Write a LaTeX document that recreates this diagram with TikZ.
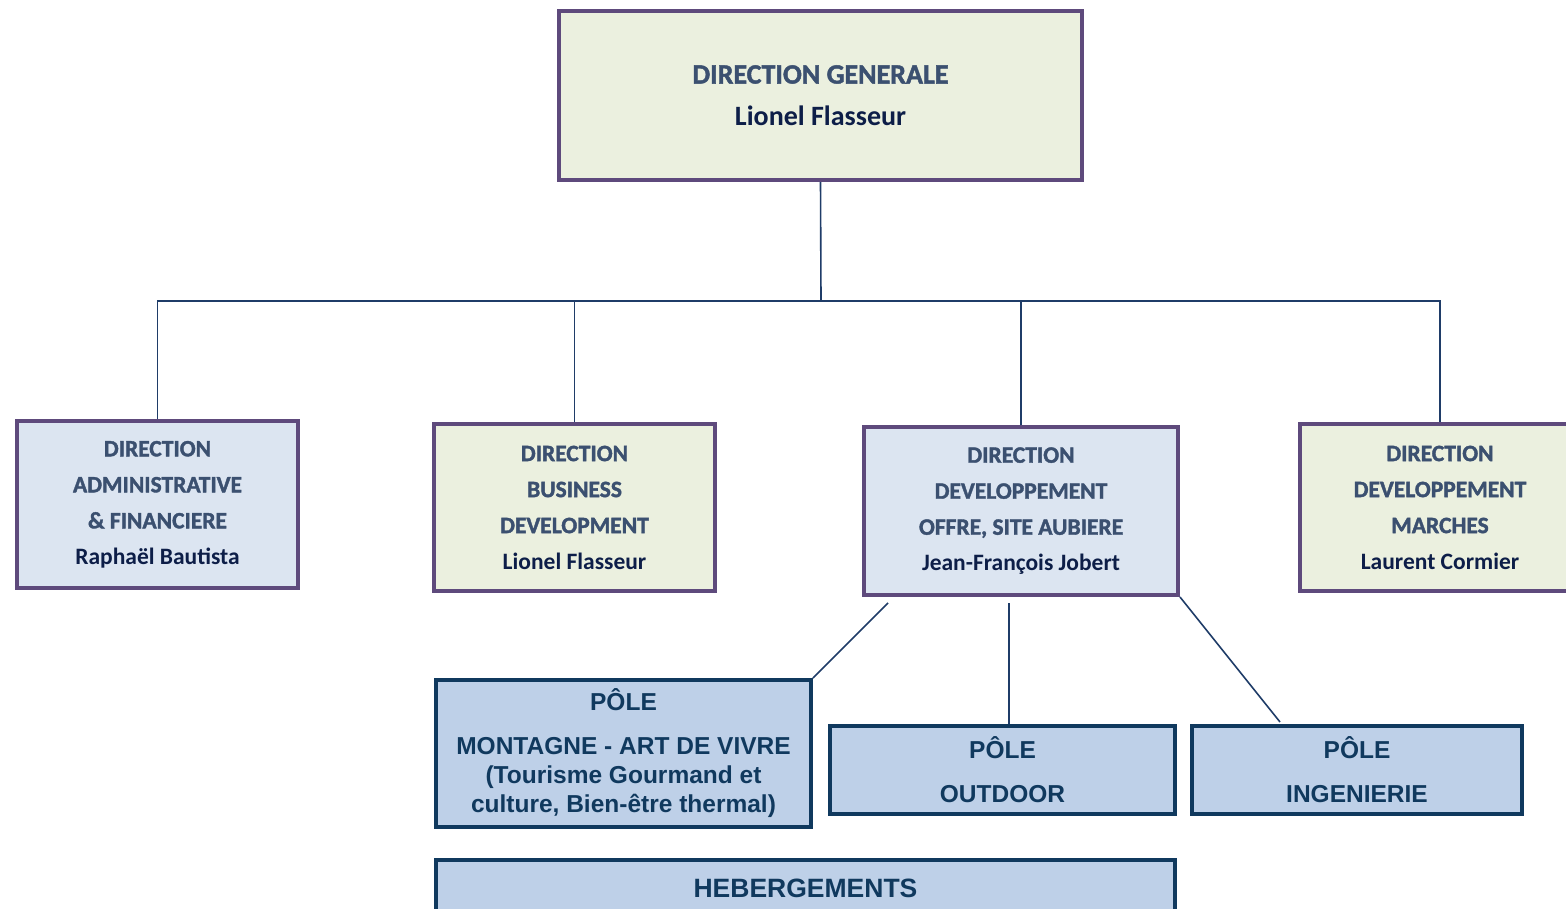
\documentclass[tikz,border=0pt]{standalone}
\usepackage{fontspec}
\setmainfont{Carlito}
\newfontfamily\headfont[FakeBold=1.6]{Carlito}
\newfontfamily\polefont{Liberation Sans}
\usetikzlibrary{calc}
\definecolor{dirborder}{RGB}{94,74,124}
\definecolor{dirgreen}{RGB}{235,240,223}
\definecolor{dirblue}{RGB}{220,229,241}
\definecolor{polefill}{RGB}{190,208,232}
\definecolor{poleborder}{RGB}{16,57,94}
\definecolor{linkcol}{RGB}{31,60,104}
\definecolor{headcol}{RGB}{59,80,112}
\definecolor{namecol}{RGB}{13,30,72}
\tikzset{dirbox/.style={draw=dirborder, line width=4pt, rectangle, align=center, inner sep=0pt,
		font=\bfseries\fontsize{23.5}{36}\selectfont}}
\tikzset{polebox/.style={draw=poleborder, line width=4pt, fill=polefill, rectangle, align=center, inner sep=0pt,
		font=\polefont\bfseries\fontsize{24.5}{29}\selectfont, text=poleborder}}
\tikzset{link/.style={draw=linkcol, line width=1.6pt}}
\newcommand{\hd}[1]{\textcolor{headcol}{\headfont\bfseries #1}}
\newcommand{\nm}[1]{\textcolor{namecol}{#1}}

\begin{document}
\begin{tikzpicture}[x=1pt, y=-1pt]
		\useasboundingbox (0,0) rectangle (1566,908);
		\clip (0,0) rectangle (1566,908);
		
		\node[dirbox, fill=dirgreen, minimum width=523, minimum height=169, font=\bfseries\fontsize{28}{42}\selectfont] (dg) at (820.5,95.5)
			{\hd{DIRECTION GENERALE}\\\nm{Lionel Flasseur}};
		
		\node[dirbox, fill=dirblue, minimum width=281, minimum height=167] (daf) at (157.5,504.5)
			{\hd{DIRECTION}\\\hd{ADMINISTRATIVE}\\\hd{\& FINANCIERE}\\\nm{Raphaël Bautista}};
		\node[dirbox, fill=dirgreen, minimum width=281, minimum height=167] (dbd) at (574.5,507.5)
			{\hd{DIRECTION}\\\hd{BUSINESS}\\\hd{DEVELOPMENT}\\\nm{Lionel Flasseur}};
		\node[dirbox, fill=dirblue, minimum width=314, minimum height=168] (ddo) at (1021,511)
			{\hd{DIRECTION}\\\hd{DEVELOPPEMENT}\\\hd{OFFRE, SITE AUBIERE}\\\nm{Jean-François Jobert}};
		\node[dirbox, fill=dirgreen, minimum width=280, minimum height=167] (ddm) at (1440,507.5)
			{\hd{DIRECTION}\\\hd{DEVELOPPEMENT}\\\hd{MARCHES}\\\nm{Laurent Cormier}};
		
		\node[polebox, minimum width=375, minimum height=147] (mont) at (623.5,753.5)
			{PÔLE\\[15pt]MONTAGNE - ART DE VIVRE\\(Tourisme Gourmand et\\culture, Bien-être thermal)};
		\node[polebox, minimum width=345, minimum height=88] (outd) at (1002.5,770) {PÔLE\\[15pt]OUTDOOR};
		\node[polebox, minimum width=330, minimum height=88] (ing) at (1357,770) {PÔLE\\[15pt]INGENIERIE};
		\node[polebox, minimum width=739, minimum height=88] (heb) at (805.5,904) {};
		\node[font=\polefont\bfseries\fontsize{26.5}{30}\selectfont, text=poleborder, anchor=base] (hebt) at (805.5,897) {HEBERGEMENTS};
		
		\coordinate (hub) at (821,301);
		\coordinate (ddoa) at (888,603);
		\coordinate (ddob) at (1009,603);
		\coordinate (ingtop) at (1280,722);
		
		\path[link] (dg.south) -- (hub);
		\path[link] (daf.north) |- (hub) -| (ddm.north);
		\path[link] (dbd.north) -- (dbd.north |- hub);
		\path[link, line width=2.6pt] (ddo.north) -- (ddo.north |- hub);
		
		\path[link] (ddoa) -- (mont.north east);
		\path[link, line width=2.6pt] (ddob) -- (ddob |- outd.north);
		\path[link] (ddo.south east) -- (ingtop);
		
		\end{tikzpicture}
\end{document}
